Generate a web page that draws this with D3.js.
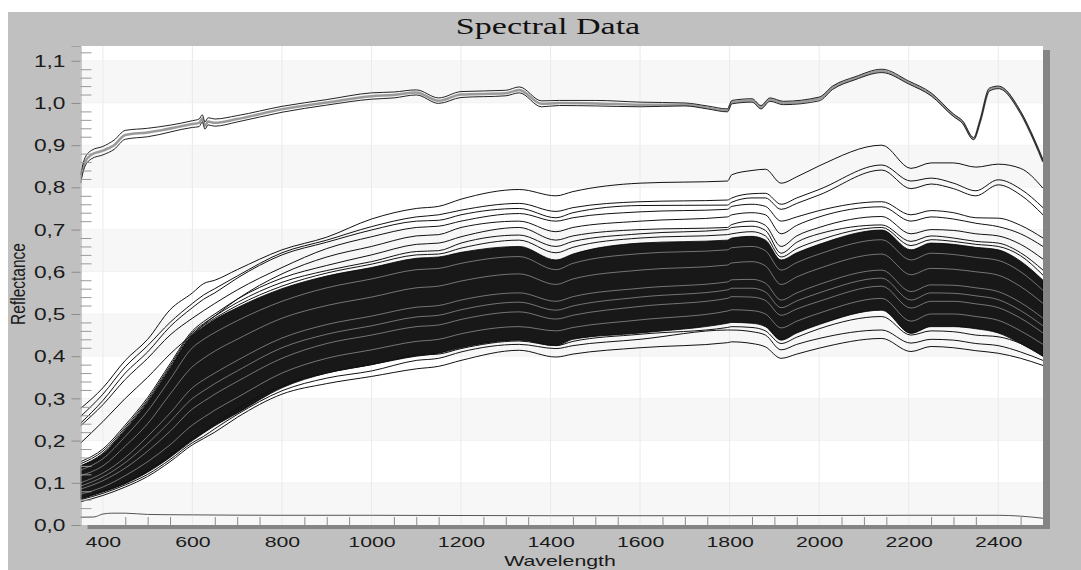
<!DOCTYPE html>
<html>
<head>
<meta charset="utf-8">
<script src="https://cdn.jsdelivr.net/npm/d3@7"></script>
<style>
  body { margin: 0; background: #fff; }
  svg { display: block; }
</style>
</head>
<body>
<div id="chart"></div>
<script>
// knot wavelengths shared by the soil spectra (nm)
const wavelengths = [350, 400, 450, 500, 550, 600, 625, 650, 700, 800, 900, 1000, 1100, 1150, 1200, 1330, 1412, 1450, 1600, 1795, 1805, 1850, 1880, 1915, 1950, 2000, 2140, 2205, 2250, 2300, 2350, 2400, 2450, 2500];

// individual spectra above the dense bundle
const u1 = [0.276, 0.325, 0.39, 0.44, 0.51, 0.55, 0.572, 0.58, 0.605, 0.652, 0.682, 0.725, 0.75, 0.755, 0.772, 0.795, 0.78, 0.79, 0.81, 0.815, 0.83, 0.84, 0.843, 0.81, 0.825, 0.851, 0.9, 0.845, 0.858, 0.858, 0.848, 0.855, 0.845, 0.798];
const u2 = [0.257, 0.31, 0.375, 0.425, 0.48, 0.525, 0.545, 0.56, 0.59, 0.645, 0.675, 0.707, 0.73, 0.735, 0.746, 0.762, 0.743, 0.752, 0.766, 0.77, 0.775, 0.785, 0.786, 0.76, 0.775, 0.795, 0.853, 0.815, 0.822, 0.81, 0.792, 0.818, 0.796, 0.752];
const u2b = [0.241, 0.295, 0.36, 0.41, 0.47, 0.515, 0.535, 0.55, 0.585, 0.64, 0.67, 0.699, 0.72, 0.722, 0.735, 0.75, 0.728, 0.74, 0.757, 0.758, 0.765, 0.775, 0.775, 0.748, 0.762, 0.782, 0.841, 0.797, 0.808, 0.797, 0.78, 0.806, 0.782, 0.735];
const u3 = [0.235, 0.285, 0.345, 0.395, 0.45, 0.49, 0.508, 0.525, 0.557, 0.61, 0.655, 0.683, 0.705, 0.708, 0.72, 0.738, 0.72, 0.728, 0.742, 0.748, 0.755, 0.76, 0.755, 0.72, 0.73, 0.745, 0.766, 0.735, 0.745, 0.74, 0.728, 0.727, 0.71, 0.68];
const u4 = [0.194, 0.245, 0.3, 0.35, 0.405, 0.452, 0.475, 0.495, 0.535, 0.595, 0.635, 0.66, 0.685, 0.688, 0.705, 0.72, 0.695, 0.705, 0.72, 0.73, 0.735, 0.74, 0.735, 0.69, 0.71, 0.73, 0.754, 0.72, 0.73, 0.725, 0.715, 0.707, 0.69, 0.66];
const u5 = [0.15, 0.18, 0.237, 0.302, 0.382, 0.46, 0.482, 0.5, 0.535, 0.585, 0.615, 0.64, 0.665, 0.668, 0.683, 0.705, 0.675, 0.685, 0.70, 0.705, 0.712, 0.72, 0.71, 0.66, 0.685, 0.705, 0.731, 0.69, 0.70, 0.698, 0.69, 0.685, 0.665, 0.63];
const u6 = [0.145, 0.175, 0.232, 0.297, 0.377, 0.456, 0.477, 0.495, 0.527, 0.575, 0.603, 0.624, 0.648, 0.65, 0.668, 0.687, 0.66, 0.672, 0.69, 0.70, 0.705, 0.708, 0.698, 0.644, 0.67, 0.69, 0.711, 0.672, 0.685, 0.68, 0.672, 0.668, 0.645, 0.604];
const u7 = [0.14, 0.17, 0.228, 0.293, 0.373, 0.452, 0.473, 0.49, 0.52, 0.566, 0.597, 0.618, 0.64, 0.642, 0.656, 0.675, 0.645, 0.658, 0.68, 0.688, 0.69, 0.695, 0.685, 0.635, 0.655, 0.675, 0.705, 0.662, 0.676, 0.672, 0.665, 0.66, 0.638, 0.592];

// spectra under the bundle
const l1 = [0.055, 0.07, 0.09, 0.115, 0.15, 0.19, 0.205, 0.22, 0.255, 0.31, 0.335, 0.352, 0.37, 0.376, 0.39, 0.414, 0.398, 0.405, 0.42, 0.432, 0.434, 0.43, 0.422, 0.395, 0.405, 0.419, 0.442, 0.411, 0.423, 0.42, 0.413, 0.407, 0.395, 0.378];
const l2 = [0.06, 0.075, 0.095, 0.12, 0.155, 0.195, 0.21, 0.228, 0.262, 0.318, 0.348, 0.365, 0.39, 0.395, 0.41, 0.428, 0.418, 0.425, 0.44, 0.462, 0.462, 0.458, 0.45, 0.415, 0.428, 0.442, 0.462, 0.431, 0.44, 0.438, 0.43, 0.425, 0.41, 0.39];
const l3 = [0.062, 0.08, 0.1, 0.128, 0.165, 0.205, 0.22, 0.24, 0.275, 0.33, 0.36, 0.38, 0.402, 0.405, 0.418, 0.436, 0.425, 0.435, 0.452, 0.468, 0.47, 0.468, 0.46, 0.43, 0.445, 0.465, 0.494, 0.45, 0.46, 0.458, 0.45, 0.446, 0.43, 0.40];

// edges of the dense bundle of spectra
const bundleTop = [0.14, 0.168, 0.225, 0.29, 0.37, 0.45, 0.47, 0.487, 0.515, 0.56, 0.59, 0.61, 0.632, 0.635, 0.646, 0.66, 0.628, 0.642, 0.668, 0.675, 0.68, 0.684, 0.675, 0.628, 0.645, 0.665, 0.699, 0.652, 0.668, 0.665, 0.658, 0.652, 0.625, 0.58];
const bundleBottom = [0.062, 0.078, 0.098, 0.125, 0.16, 0.2, 0.218, 0.235, 0.265, 0.325, 0.36, 0.38, 0.4, 0.407, 0.42, 0.438, 0.425, 0.44, 0.455, 0.478, 0.48, 0.478, 0.47, 0.438, 0.455, 0.475, 0.509, 0.454, 0.47, 0.47, 0.465, 0.455, 0.43, 0.40];

// light gaps seen between lines inside the bundle
const gap1 = [0.073, 0.09, 0.117, 0.15, 0.19, 0.237, 0.255, 0.272, 0.302, 0.36, 0.395, 0.415, 0.435, 0.44, 0.453, 0.47, 0.46, 0.468, 0.486, 0.507, 0.51, 0.508, 0.5, 0.467, 0.483, 0.502, 0.537, 0.483, 0.5, 0.5, 0.494, 0.485, 0.46, 0.428];
const gap2 = [0.085, 0.105, 0.135, 0.175, 0.222, 0.275, 0.293, 0.31, 0.34, 0.395, 0.43, 0.45, 0.47, 0.474, 0.487, 0.505, 0.488, 0.497, 0.518, 0.537, 0.541, 0.54, 0.532, 0.497, 0.512, 0.53, 0.566, 0.514, 0.53, 0.53, 0.524, 0.515, 0.49, 0.455];
const gap3 = [0.1, 0.123, 0.16, 0.21, 0.265, 0.325, 0.344, 0.36, 0.39, 0.443, 0.475, 0.495, 0.516, 0.52, 0.533, 0.55, 0.53, 0.541, 0.561, 0.576, 0.581, 0.582, 0.573, 0.533, 0.55, 0.57, 0.604, 0.553, 0.569, 0.568, 0.562, 0.553, 0.527, 0.49];
const gap4 = [0.117, 0.14, 0.187, 0.24, 0.31, 0.375, 0.395, 0.412, 0.44, 0.49, 0.52, 0.54, 0.562, 0.566, 0.578, 0.595, 0.57, 0.583, 0.604, 0.616, 0.621, 0.624, 0.614, 0.57, 0.588, 0.608, 0.642, 0.593, 0.608, 0.606, 0.6, 0.592, 0.565, 0.525];
const gap5 = [0.13, 0.157, 0.21, 0.27, 0.345, 0.42, 0.44, 0.456, 0.484, 0.53, 0.562, 0.583, 0.605, 0.608, 0.62, 0.636, 0.605, 0.62, 0.643, 0.652, 0.657, 0.66, 0.65, 0.604, 0.622, 0.642, 0.676, 0.628, 0.644, 0.641, 0.634, 0.627, 0.6, 0.556];
const gap6 = [0.092, 0.114, 0.148, 0.193, 0.245, 0.3, 0.318, 0.335, 0.365, 0.42, 0.452, 0.472, 0.493, 0.497, 0.51, 0.528, 0.509, 0.519, 0.54, 0.557, 0.561, 0.561, 0.552, 0.515, 0.531, 0.55, 0.585, 0.533, 0.55, 0.549, 0.543, 0.534, 0.508, 0.472];

// white reference panel spectra
const standardWl = [350, 360, 375, 400, 425, 450, 500, 600, 615, 622, 628, 635, 650, 700, 800, 900, 1000, 1050, 1100, 1150, 1200, 1300, 1330, 1380, 1420, 1500, 1600, 1700, 1750, 1795, 1805, 1850, 1870, 1890, 1920, 2000, 2030, 2080, 2140, 2200, 2250, 2300, 2320, 2345, 2360, 2380, 2400, 2450, 2480, 2500];
const standardUpper = [0.83, 0.87, 0.888, 0.897, 0.912, 0.935, 0.94, 0.958, 0.962, 0.972, 0.955, 0.965, 0.962, 0.97, 0.992, 1.008, 1.024, 1.026, 1.031, 1.012, 1.027, 1.03, 1.038, 1.005, 1.006, 1.006, 1.002, 1.0, 0.993, 0.986, 1.006, 1.01, 0.994, 1.012, 1.004, 1.014, 1.04, 1.062, 1.08, 1.052, 1.024, 0.974, 0.958, 0.918, 0.962, 1.035, 1.04, 0.98, 0.915, 0.865];
const standardMiddle = [0.82, 0.86, 0.878, 0.887, 0.9, 0.924, 0.93, 0.95, 0.953, 0.963, 0.946, 0.956, 0.953, 0.962, 0.985, 1.001, 1.016, 1.019, 1.025, 1.005, 1.02, 1.023, 1.031, 0.998, 1.0, 0.999, 0.996, 0.996, 0.989, 0.982, 1.002, 1.006, 0.99, 1.008, 1.0, 1.01, 1.036, 1.058, 1.076, 1.048, 1.02, 0.971, 0.955, 0.915, 0.959, 1.031, 1.037, 0.977, 0.912, 0.862];
const standardLower = [0.81, 0.85, 0.868, 0.877, 0.89, 0.914, 0.92, 0.942, 0.944, 0.955, 0.938, 0.948, 0.945, 0.955, 0.978, 0.995, 1.009, 1.012, 1.019, 0.999, 1.013, 1.017, 1.024, 0.991, 0.994, 0.993, 0.991, 0.993, 0.986, 0.979, 0.998, 1.002, 0.986, 1.004, 0.996, 1.005, 1.032, 1.055, 1.072, 1.045, 1.017, 0.968, 0.952, 0.913, 0.956, 1.028, 1.034, 0.975, 0.91, 0.86];

// dark reference spectrum
const darkWl = [350, 380, 400, 420, 450, 500, 600, 800, 1000, 1400, 1800, 2200, 2400, 2450, 2500];
const darkValues = [0.018, 0.019, 0.026, 0.028, 0.028, 0.025, 0.024, 0.023, 0.023, 0.022, 0.022, 0.023, 0.023, 0.021, 0.016];

const xTicks = [400, 600, 800, 1000, 1200, 1400, 1600, 1800, 2000, 2200, 2400];
const yTicks = [0, 0.1, 0.2, 0.3, 0.4, 0.5, 0.6, 0.7, 0.8, 0.9, 1.0, 1.1];

const soilLines = [u1, u2, u2b, u3, u4, u5, u6, u7, l1, l2, l3];
const gapLines = [gap1, gap2, gap3, gap4, gap5, gap6];

const W = 1081, H = 570;
const plot = { left: 80.5, top: 46, right: 1043, bottom: 525 };
const stretch = 1.42; // glyphs in the picture are widened horizontally

const svg = d3.select("#chart").append("svg")
    .attr("width", W)
    .attr("height", H);

const x = d3.scaleLinear().domain([350, 2500]).range([plot.left, plot.right]);
const y = d3.scaleLinear().domain([0, 1.135]).range([plot.bottom, plot.top]);

// grey panel
svg.append("rect")
    .attr("x", 8).attr("y", 12)
    .attr("width", W - 8).attr("height", H - 12)
    .attr("fill", "#c0c0c0");

// drop shadow of the plot area
svg.append("rect")
    .attr("x", plot.left + 7).attr("y", plot.top + 4)
    .attr("width", plot.right - plot.left).attr("height", plot.bottom - plot.top)
    .attr("fill", "#858585");

svg.append("rect")
    .attr("x", plot.left).attr("y", plot.top)
    .attr("width", plot.right - plot.left).attr("height", plot.bottom - plot.top)
    .attr("fill", "#fff");

// alternate shaded bands
const bands = [0, 0.2, 0.4, 0.6, 0.8, 1.0];
svg.append("g").selectAll("rect")
    .data(bands)
    .join("rect")
    .attr("x", plot.left)
    .attr("width", plot.right - plot.left)
    .attr("y", d => y(d + 0.1))
    .attr("height", d => y(d) - y(d + 0.1))
    .attr("fill", "#f7f7f7");

svg.append("g").selectAll("line")
    .data(yTicks.slice(1))
    .join("line")
    .attr("x1", plot.left).attr("x2", plot.right)
    .attr("y1", d => y(d)).attr("y2", d => y(d))
    .attr("stroke", "#ececec")
    .attr("stroke-dasharray", "1,1");

svg.append("g").selectAll("line")
    .data(xTicks)
    .join("line")
    .attr("x1", d => x(d)).attr("x2", d => x(d))
    .attr("y1", plot.top).attr("y2", plot.bottom)
    .attr("stroke", "#eaeaea");

svg.append("clipPath").attr("id", "clip")
    .append("rect")
    .attr("x", plot.left).attr("y", plot.top)
    .attr("width", plot.right - plot.left).attr("height", plot.bottom - plot.top);

const g = svg.append("g").attr("clip-path", "url(#clip)");

const line = d3.line()
    .x((d, i) => x(wavelengths[i]))
    .y(d => y(d))
    .curve(d3.curveMonotoneX);

const bundle = d3.area()
    .x((d, i) => x(wavelengths[i]))
    .y0((d, i) => y(bundleBottom[i]))
    .y1(d => y(d))
    .curve(d3.curveMonotoneX);

g.append("path")
    .attr("d", bundle(bundleTop))
    .attr("fill", "#181818")
    .attr("stroke", "#000")
    .attr("stroke-width", 0.8);

g.selectAll(".gap")
    .data(gapLines)
    .join("path")
    .attr("class", "gap")
    .attr("d", line)
    .attr("fill", "none")
    .attr("stroke", "#fff")
    .attr("stroke-opacity", 0.5)
    .attr("stroke-width", 0.8);

g.selectAll(".soil")
    .data(soilLines)
    .join("path")
    .attr("class", "soil")
    .attr("d", line)
    .attr("fill", "none")
    .attr("stroke", "#111")
    .attr("stroke-width", 1);

const standardLine = d3.line()
    .x((d, i) => x(standardWl[i]))
    .y(d => y(d))
    .curve(d3.curveMonotoneX);

g.append("path")
    .attr("d", standardLine(standardMiddle))
    .attr("fill", "none")
    .attr("stroke", "#9a9a9a")
    .attr("stroke-width", 2.5);

[standardUpper, standardLower].forEach(vals => {
    g.append("path")
        .attr("d", standardLine(vals))
        .attr("fill", "none")
        .attr("stroke", "#222")
        .attr("stroke-width", 1);
});

const darkLine = d3.line()
    .x((d, i) => x(darkWl[i]))
    .y(d => y(d))
    .curve(d3.curveMonotoneX);

g.append("path")
    .attr("d", darkLine(darkValues))
    .attr("fill", "none")
    .attr("stroke", "#555")
    .attr("stroke-width", 1);

// y axis: outer major ticks with labels, inner minor ticks
const fmt = d => d3.format(".1f")(d).replace(".", ",");
const labelFont = "16px 'Liberation Sans', Arial, sans-serif";
const xLabelFont = "15px 'Liberation Sans', Arial, sans-serif";

const yAxisG = svg.append("g")
    .attr("transform", `translate(${plot.left},0)`)
    .call(d3.axisLeft(y).tickValues(yTicks).tickSize(9).tickFormat(fmt));
yAxisG.select(".domain").attr("stroke", "#a0a0a0");
yAxisG.selectAll(".tick line").attr("stroke", "#8c8c8c");
yAxisG.selectAll(".tick text")
    .attr("x", -15 / stretch)
    .attr("dy", "0.35em")
    .attr("transform", `scale(${stretch},1)`)
    .attr("fill", "#1a1a1a")
    .style("font", labelFont);

const yMinor = d3.range(0, 1.14, 0.02).filter(v => Math.abs(v * 10 - Math.round(v * 10)) > 0.01);
svg.append("g")
    .attr("transform", `translate(${plot.left},0)`)
    .call(d3.axisLeft(y).tickValues(yMinor).tickSize(-11).tickFormat(""))
    .call(a => a.select(".domain").remove())
    .selectAll(".tick line").attr("stroke", "#9a9a9a");

// x axis: labels under the shadow, inner minor ticks every 50 nm
const xMinor = d3.range(400, 2500, 50).filter(v => v % 200 !== 0);
svg.append("g")
    .attr("transform", `translate(0,${plot.bottom})`)
    .call(d3.axisBottom(x).tickValues(xMinor).tickSize(-8).tickFormat(""))
    .call(a => a.select(".domain").remove())
    .selectAll(".tick line").attr("stroke", "#8c8c8c");

const xAxisG = svg.append("g")
    .attr("transform", `translate(0,${plot.bottom})`)
    .call(d3.axisBottom(x).tickValues(xTicks).tickSize(0).tickFormat(d3.format("d")));
xAxisG.select(".domain").remove();
xAxisG.selectAll(".tick text")
    .attr("y", 22.5)
    .attr("dy", 0)
    .attr("transform", `scale(${stretch},1)`)
    .attr("fill", "#1a1a1a")
    .style("font", xLabelFont);

// titles
svg.append("text")
    .attr("transform", `translate(548,34) scale(${stretch},1)`)
    .attr("text-anchor", "middle")
    .attr("fill", "#111")
    .style("font", "24px 'Liberation Serif', 'Times New Roman', serif")
    .text("Spectral Data");

svg.append("text")
    .attr("transform", `translate(560,566) scale(${stretch},1)`)
    .attr("text-anchor", "middle")
    .attr("fill", "#1a1a1a")
    .style("font", xLabelFont)
    .text("Wavelength");

svg.append("text")
    .attr("transform", `translate(25,284) scale(1.3,1) rotate(-90)`)
    .attr("text-anchor", "middle")
    .attr("fill", "#1a1a1a")
    .style("font", "15.5px 'Liberation Sans', Arial, sans-serif")
    .text("Reflectance");
</script>
</body>
</html>
